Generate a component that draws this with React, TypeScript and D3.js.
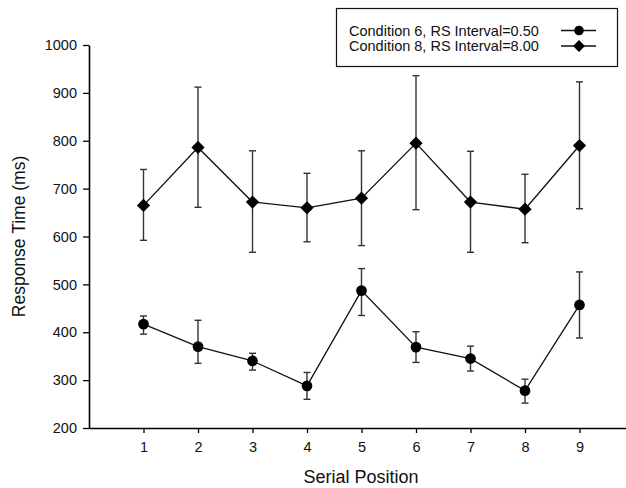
import React, { useEffect, useRef } from 'react';
import * as d3 from 'd3';

const positions = [1, 2, 3, 4, 5, 6, 7, 8, 9];

// Condition 6, RS Interval=0.50 (circles)
const cond6Mean = [417, 370, 340, 288, 487, 369, 345, 278, 457];
const cond6Upper = [434, 425, 356, 316, 533, 401, 371, 302, 526];
const cond6Lower = [396, 335, 321, 260, 435, 337, 319, 252, 388];

// Condition 8, RS Interval=8.00 (diamonds)
const cond8Mean = [665, 786, 672, 660, 680, 795, 672, 657, 790];
const cond8Upper = [740, 912, 779, 732, 779, 936, 778, 730, 923];
const cond8Lower = [592, 661, 567, 589, 581, 656, 567, 587, 658];

const yTicks = [200, 300, 400, 500, 600, 700, 800, 900, 1000];
const legendLabels = ['Condition 6, RS Interval=0.50', 'Condition 8, RS Interval=8.00'];

const App = () => {
  const ref = useRef<SVGSVGElement>(null);

  useEffect(() => {
    const svg = d3.select(ref.current);
    svg.selectAll('*').remove();

    const font = '"Liberation Sans", Arial, sans-serif';

    const x = d3.scaleLinear().domain([0, 10]).range([89, 634]);
    const y = d3.scaleLinear().domain([200, 1000]).range([428, 45]);

    // y axis
    const yAxis = svg.append('g')
      .attr('transform', 'translate(89,0)')
      .call(d3.axisLeft(y).tickValues(yTicks).tickFormat(d3.format('d')).tickSize(6).tickSizeOuter(0).tickPadding(6))
      .attr('font-family', font)
      .attr('font-size', 14.5);
    yAxis.select('.domain').attr('stroke-width', 1.6);
    yAxis.selectAll('.tick line').attr('stroke-width', 1.3);
    yAxis.selectAll('.tick text').attr('fill', '#111');

    // x axis
    const xAxis = svg.append('g')
      .attr('transform', 'translate(0,428)')
      .call(d3.axisBottom(x).tickValues(positions).tickFormat(d3.format('d')).tickSize(5).tickSizeOuter(0).tickPadding(9))
      .attr('font-family', font)
      .attr('font-size', 14.5);
    xAxis.select('.domain').attr('stroke-width', 1.6);
    xAxis.selectAll('.tick line').attr('stroke-width', 1.3);
    xAxis.selectAll('.tick text').attr('fill', '#111');

    // axis titles
    svg.append('text')
      .attr('transform', `translate(25,${(45 + 428) / 2}) rotate(-90)`)
      .attr('text-anchor', 'middle')
      .attr('font-size', 17.5)
      .attr('font-family', font)
      .attr('fill', '#111')
      .text('Response Time (ms)');

    svg.append('text')
      .attr('x', 361)
      .attr('y', 483)
      .attr('text-anchor', 'middle')
      .attr('font-size', 18)
      .attr('font-family', font)
      .attr('fill', '#111')
      .text('Serial Position');

    const series = [
      { mean: cond6Mean, upper: cond6Upper, lower: cond6Lower, symbol: d3.symbolCircle, size: 90, rot: 0 },
      { mean: cond8Mean, upper: cond8Upper, lower: cond8Lower, symbol: d3.symbolSquare, size: 88, rot: 45 },
    ];

    const line = d3.line<number>()
      .x((d, i) => x(positions[i]))
      .y(d => y(d));

    series.forEach(s => {
      const g = svg.append('g');

      // error bars
      positions.forEach((p, i) => {
        g.append('line')
          .attr('x1', x(p)).attr('x2', x(p))
          .attr('y1', y(s.lower[i])).attr('y2', y(s.upper[i]))
          .attr('stroke', '#333').attr('stroke-width', 1.4);
        [s.lower[i], s.upper[i]].forEach(v => {
          g.append('line')
            .attr('x1', x(p) - 3.5).attr('x2', x(p) + 3.5)
            .attr('y1', y(v)).attr('y2', y(v))
            .attr('stroke', '#333').attr('stroke-width', 1.4);
        });
      });

      g.append('path')
        .datum(s.mean)
        .attr('d', line)
        .attr('fill', 'none')
        .attr('stroke', '#111')
        .attr('stroke-width', 1.3);

      g.selectAll('.pt')
        .data(s.mean)
        .join('path')
          .attr('class', 'pt')
          .attr('transform', (d, i) => `translate(${x(positions[i])},${y(d)}) rotate(${s.rot})`)
          .attr('d', d3.symbol().type(s.symbol).size(s.size)())
          .attr('fill', '#000');
    });

    // legend
    const legend = svg.append('g');
    legend.append('rect')
      .attr('x', 336.5).attr('y', 8.5)
      .attr('width', 281).attr('height', 58)
      .attr('fill', '#fff').attr('stroke', '#111').attr('stroke-width', 1.2);

    legendLabels.forEach((label, i) => {
      const ly = 30.5 + i * 15.5;
      legend.append('text')
        .attr('x', 349).attr('y', ly + 5.2)
        .attr('font-size', 14.5)
        .attr('font-family', font)
        .attr('fill', '#111')
        .text(label);
      legend.append('line')
        .attr('x1', 561).attr('x2', 596)
        .attr('y1', ly).attr('y2', ly)
        .attr('stroke', '#111').attr('stroke-width', 1.5);
      legend.append('path')
        .attr('transform', `translate(579,${ly}) rotate(${series[i].rot})`)
        .attr('d', d3.symbol().type(series[i].symbol).size(series[i].size * 0.8)())
        .attr('fill', '#000');
    });
  }, []);

  return (
    <svg ref={ref} width={626} height={488} style={{ position: 'absolute', left: 0, top: 0, background: '#fff' }}></svg>
  );
};

export default App;
